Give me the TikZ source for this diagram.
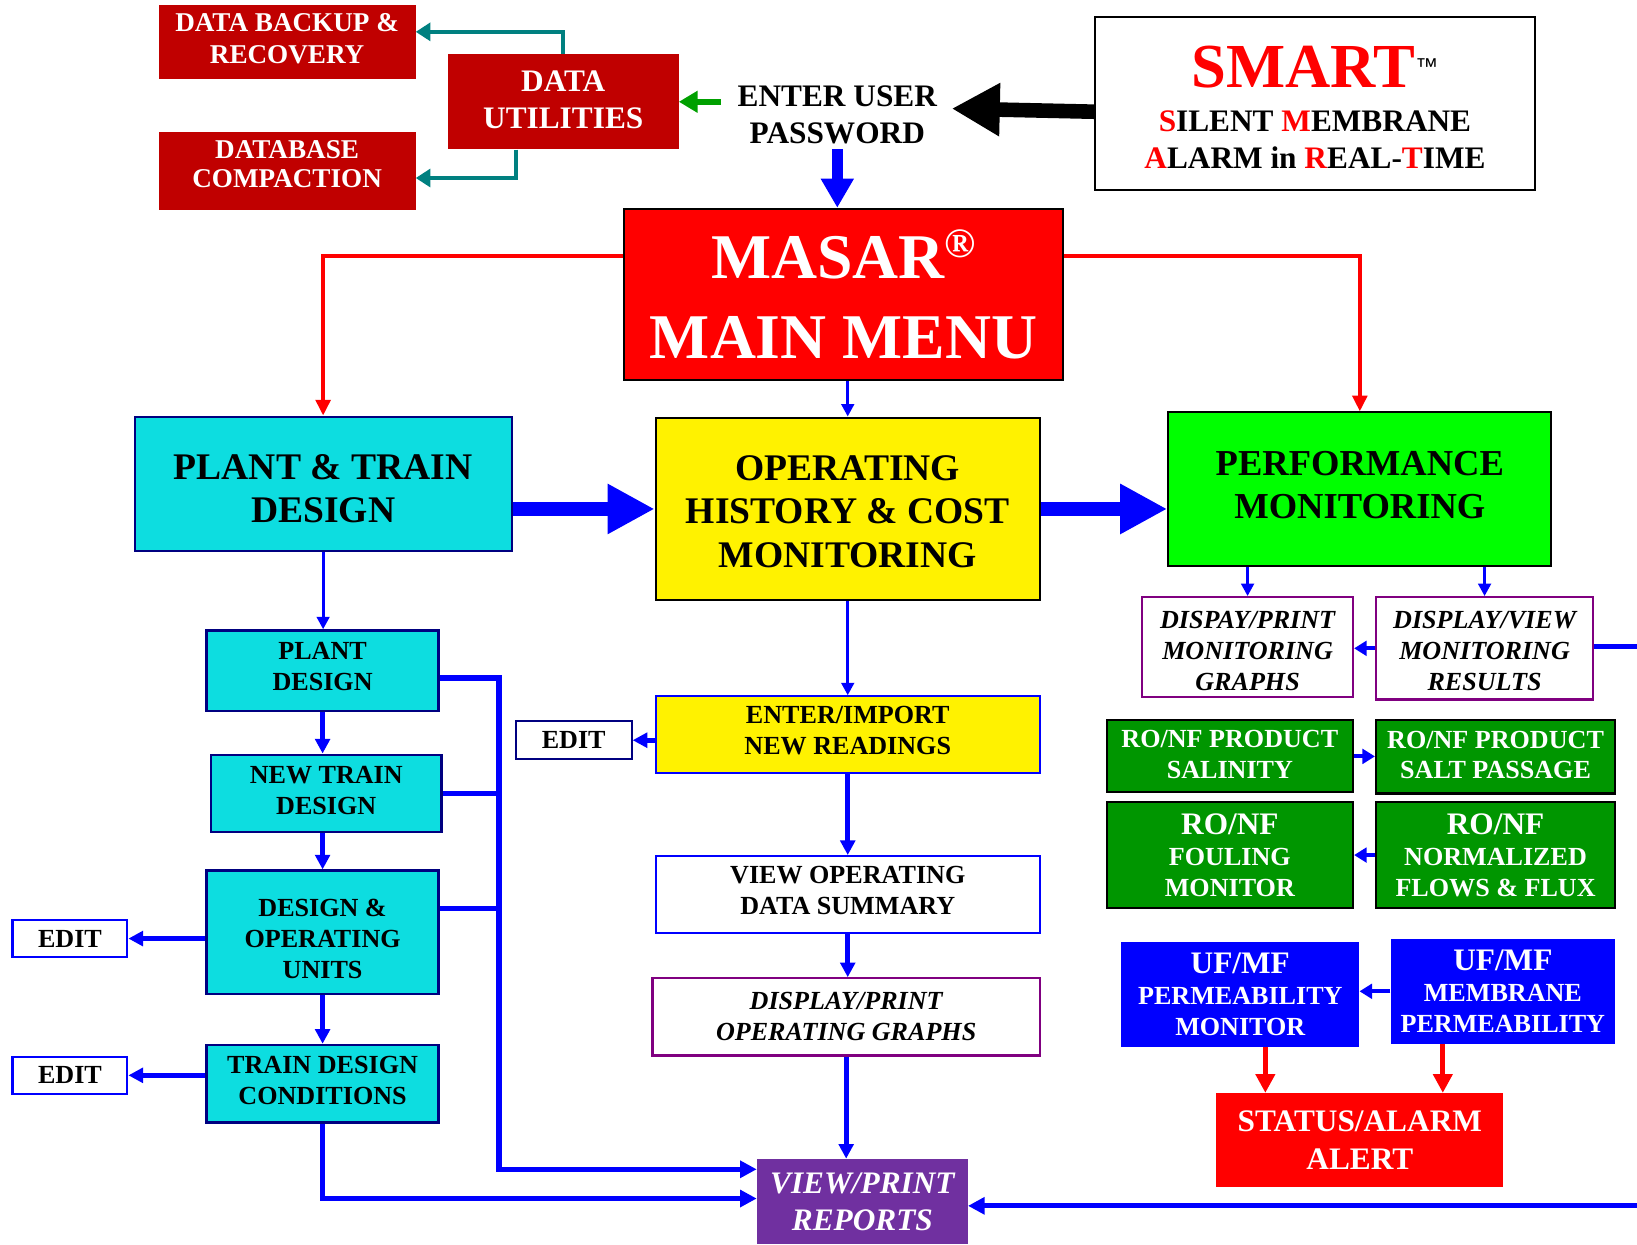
\documentclass[tikz,border=0pt]{standalone}
\usepackage{fontspec}
\setmainfont{Liberation Serif}
\newfontfamily\tmfont{Liberation Sans}
\usetikzlibrary{arrows.meta}
\definecolor{dkred}{RGB}{192,0,0}
\definecolor{cyanbox}{RGB}{13,221,224}
\definecolor{dkgreen}{RGB}{0,150,0}
\definecolor{purplebox}{RGB}{112,48,160}
\definecolor{purpleline}{RGB}{128,0,128}
\definecolor{navy}{RGB}{0,0,128}
\definecolor{tealline}{RGB}{0,128,128}
\definecolor{arrgreen}{RGB}{0,160,0}
\newcommand{\fs}[2]{\fontsize{#1}{#2}\selectfont}
\newcommand{\lowstrut}[1]{\vrule width 0pt height 0pt depth #1pt}
\newcommand{\topstrut}[1]{\vrule width 0pt height #1pt depth 0pt}

\begin{document}
\begin{tikzpicture}[x=1pt,y=-1pt,
    txt/.style={inner sep=0pt,align=center,font=\bfseries\fs{25}{29.5}},
    sz/.style 2 args={minimum width=#1pt,minimum height=#2pt},
    cbox/.style={txt,fill=cyanbox,draw=navy,line width=2.5pt},
    gbox/.style={txt,fill=dkgreen,draw=black,line width=2pt,text=white},
    bbox/.style={txt,fill=blue,text=white},
    ibox/.style={txt,draw=purpleline,line width=2pt,font=\bfseries\itshape\fs{25}{30}},
    editbox/.style={txt,sz={110}{36},fill=white,line width=2pt},
    thinblue/.style={draw=blue,line width=3pt,-{Triangle[length=12pt,width=12pt]}},
    medblue/.style={draw=blue,line width=4.5pt,-{Triangle[length=14pt,width=14pt]}},
    busline/.style={draw=blue,line width=5pt},
    busarr/.style={busline,-{Triangle[length=16pt,width=16pt]}},
    shortarr/.style={draw=blue,line width=4pt,-{Triangle[length=12pt,width=14pt]}},
    bigarr/.style={draw=blue,line width=14pt,-{Triangle[length=45pt,width=45pt]}},
    redline/.style={draw=red,line width=3.5pt,-{Triangle[length=15pt,width=14pt]}},
    redarr/.style={draw=red,line width=5pt,-{Triangle[length=18pt,width=18pt]}},
    tealarr/.style={draw=tealline,line width=4pt,-{Triangle[length=14pt,width=17pt]}}]
  % \draw[very thin, gray, step=50pt] (0,0) grid (1568,1192);
  \useasboundingbox (0,0) rectangle (1568,1192);

  % top row
  \node[txt,sz={246}{71},fill=dkred,text=white,font=\bfseries\fs{26}{30}] (backup) at (275,40.5) {DATA BACKUP \&\\RECOVERY\lowstrut{7}};
  \node[txt,sz={246}{75},fill=dkred,text=white,font=\bfseries\fs{26}{28}] (compact) at (275,163.5) {DATABASE\\COMPACTION\lowstrut{13}};
  \node[txt,sz={221}{91},fill=dkred,text=white,font=\bfseries\fs{30}{35}] (util) at (539.5,97.5) {DATA\\UTILITIES\lowstrut{4}};
  \node[txt,font=\bfseries\fs{30}{35}] (pwd) at (802,110) {ENTER USER\\PASSWORD};
  \node[txt,sz={421}{166},fill=white,draw=black,line width=2pt,font=\bfseries\fs{30}{35}] (smart) at (1259.5,99)
    {\topstrut{47.5}{\color{red}\fs{60}{60}SMART}\raisebox{13pt}{\tmfont\mdseries\fs{22}{22}™}\\[7pt]
     {\color{red}S}ILENT {\color{red}M}EMBRANE\\
     {\color{red}A}LARM in {\color{red}R}EAL-{\color{red}T}IME};
  \node[txt,sz={420}{164},fill=red,draw=black,line width=2pt,text=white,font=\bfseries\fs{61}{77}] (masar) at (808,282)
    {MASAR\raisebox{20pt}{\fs{40}{40}®}\\MAIN MENU};

  \draw[tealarr] (util.north) |- ([yshift=10pt]backup.east);
  \draw[tealarr] ([xshift=-45pt]util.south) |- ([yshift=-7pt]compact.east);
  \draw[draw=arrgreen,line width=6pt,-{Triangle[length=18pt,width=20pt]}] (util.east) ++(40,0) -- (util.east);
  \draw[line width=14pt,-{Triangle[length=46pt,width=48pt]}] ([yshift=-8pt]smart.west) -- ([xshift=14pt,yshift=6pt]pwd.east);
  \draw[draw=blue,line width=10pt,-{Triangle[length=28pt,width=30pt]}] ([yshift=-5pt]pwd.south) -- (pwd.south |- masar.north);

  % main modules
  \node[txt,sz={361}{129},fill=cyanbox,draw=navy,line width=2pt,font=\bfseries\fs{36}{41}] (ptd) at (309.5,463.5) {\topstrut{33}PLANT \& TRAIN\\DESIGN};
  \node[txt,sz={368}{175},fill=yellow,draw=black,line width=2pt,font=\bfseries\fs{36}{41.5}] (ohc) at (812,487.5) {\topstrut{29}OPERATING\\HISTORY \& COST\\MONITORING};
  \node[txt,sz={367}{147},fill=green,draw=black,line width=2pt,font=\bfseries\fs{35}{42}] (perf) at (1302.5,468.5) {PERFORMANCE\\MONITORING\lowstrut{8}};

  \draw[redline] ([yshift=37pt]masar.west) -| (ptd.north);
  \draw[redline] ([yshift=37pt]masar.east) -| (perf.north);
  \draw[thinblue] (ohc.north |- masar.south) -- (ohc.north);
  \draw[bigarr] (ptd.east |- ohc.west) -- (ohc.west);
  \draw[bigarr] (ohc.east) -- (perf.west |- ohc.east);

  % plant & train design
  \node[cbox,sz={222}{77}] (pd) at (309,642.5) {PLANT\\DESIGN\lowstrut{8}};
  \node[cbox,sz={221}{74}] (ntd) at (312.5,760) {NEW TRAIN\\DESIGN\lowstrut{6}};
  \node[cbox,sz={222}{118}] (dou) at (309,893) {\topstrut{29.5}DESIGN \&\\OPERATING\\UNITS};
  \node[cbox,sz={222}{74}] (tdc) at (309,1038) {TRAIN DESIGN\\CONDITIONS\lowstrut{6}};
  \node[editbox,draw=blue] (edit1) at (67,899) {EDIT};
  \node[editbox,draw=blue] (edit2) at (67,1030) {EDIT};

  \draw[thinblue] (ptd.south) -- (ptd.south |- pd.north);
  \draw[medblue] (pd.south) -- (pd.south |- ntd.north);
  \draw[medblue] (dou.north |- ntd.south) -- (dou.north);
  \draw[medblue] (dou.south) -- (tdc.north);
  \draw[medblue] (dou.west |- edit1.east) -- (edit1.east);
  \draw[medblue] (tdc.west |- edit2.east) -- (edit2.east);

  % operating history
  \node[txt,sz={368}{73},fill=yellow,draw=blue,line width=2pt] (eir) at (812,703.5) {ENTER/IMPORT\\NEW READINGS\lowstrut{8}};
  \node[editbox,sz={111}{36},draw=navy] (edit3) at (549.5,709) {EDIT};
  \node[txt,sz={368}{74},fill=white,draw=blue,line width=2pt] (vods) at (812,857) {VIEW OPERATING\\DATA SUMMARY\lowstrut{8}};
  \node[txt,sz={371}{74},draw=purpleline,line width=2pt,font=\bfseries\itshape\fs{25}{29.5}] (dpog) at (810.5,974) {DISPLAY/PRINT\\OPERATING GRAPHS};
  \node[txt,sz={202}{82},fill=purplebox,text=white,font=\bfseries\itshape\fs{30}{35}] (vpr) at (826,1151) {VIEW/PRINT\\REPORTS};

  \draw[thinblue] (ohc.south) -- (eir.north);
  \draw[medblue] (eir.west |- edit3.east) -- (edit3.east);
  \draw[medblue] (eir.south) -- (vods.north);
  \draw[medblue] (vods.south) -- (vods.south |- dpog.north);
  \draw[medblue] (dpog.south) -- (dpog.south |- vpr.north);

  \coordinate (bus) at (478,1120);
  \draw[busarr] ([yshift=-7pt]pd.east) -| (bus) -- (vpr.west |- bus);
  \draw[busline] (ntd.east) -| (bus);
  \draw[busline] ([yshift=23pt]dou.east) -| (bus);
  \draw[busarr] (tdc.south) |- ([yshift=3pt]vpr.west);

  % performance monitoring
  \node[ibox,sz={202}{96}] (dpmg) at (1195,620) {\topstrut{23.5}DISPAY/PRINT\\MONITORING\\GRAPHS};
  \node[ibox,sz={208}{98}] (dvmr) at (1422,621) {\topstrut{21.5}DISPLAY/VIEW\\MONITORING\\RESULTS};
  \node[gbox,sz={236}{69}] (rps) at (1178,724.5) {RO/NF PRODUCT\\SALINITY\lowstrut{4}};
  \node[gbox,sz={229}{70}] (rpsp) at (1432.5,725) {RO/NF PRODUCT\\SALT PASSAGE\lowstrut{4}};
  \node[gbox,sz={236}{102}] (rfm) at (1178,819) {{\fs{30}{31}RO/NF}\\FOULING\\MONITOR};
  \node[gbox,sz={229}{102}] (rnff) at (1432.5,819) {{\fs{30}{31}RO/NF}\\NORMALIZED\\FLOWS \& FLUX};
  \node[bbox,sz={228}{101}] (upm) at (1188,952.5) {{\fs{30}{31}UF/MF}\\PERMEABILITY\\MONITOR};
  \node[bbox,sz={215}{101}] (umpm) at (1439.5,949.5) {{\fs{30}{31}UF/MF}\\MEMBRANE\\PERMEABILITY};
  \node[txt,sz={275}{90},fill=red,text=white,font=\bfseries\fs{30}{36}] (sa) at (1302.5,1092) {STATUS/ALARM\\ALERT};

  \draw[thinblue] (dpmg.north |- perf.south) -- (dpmg.north);
  \draw[thinblue] (dvmr.north |- perf.south) -- (dvmr.north);
  \draw[shortarr] (dvmr.west) -- (dvmr.west -| dpmg.east);
  \draw[shortarr] (rps.east) -- (rps.east -| rpsp.west);
  \draw[shortarr] (rnff.west) -- (rnff.west -| rfm.east);
  \draw[shortarr] (umpm.west) -- (umpm.west -| upm.east);
  \draw[redarr] ([xshift=24pt]upm.south) -- ([xshift=-90.5pt]sa.north);
  \draw[redarr] ([xshift=-57.5pt]umpm.south) -- ([xshift=79.5pt]sa.north);

  \coordinate (outr) at (1568,619);
  \coordinate (inr) at (1568,1155);
  \draw[busline] (dvmr.east |- outr) -- (outr);
  \draw[busarr] (inr) -- (vpr.east |- inr);
\end{tikzpicture}
\end{document}
